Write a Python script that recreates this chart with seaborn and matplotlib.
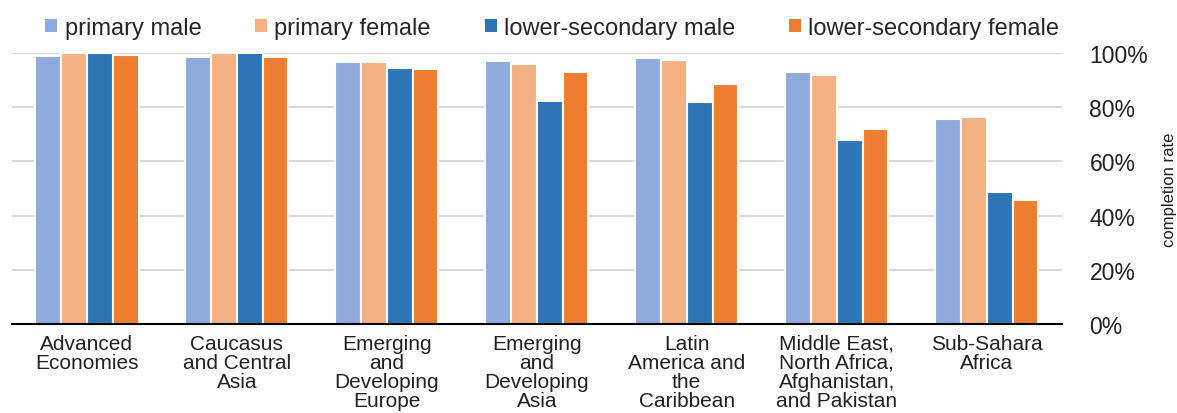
import numpy as np
import pandas as pd
import matplotlib.pyplot as plt
import seaborn as sns
from matplotlib.ticker import PercentFormatter
from matplotlib.patches import Patch

regions = ["Advanced\nEconomies", "Caucasus\nand Central\nAsia", "Emerging\nand\nDeveloping\nEurope",
           "Emerging\nand\nDeveloping\nAsia", "Latin\nAmerica and\nthe\nCaribbean",
           "Middle East,\nNorth Africa,\nAfghanistan,\nand Pakistan", "Sub-Sahara\nAfrica"]
series = ["primary male", "primary female", "lower-secondary male", "lower-secondary female"]
primary_male = [98.9, 98.5, 96.7, 97.0, 98.2, 93.0, 75.6]
primary_female = [100.0, 100.0, 96.7, 96.0, 97.4, 91.9, 76.4]
lower_sec_male = [100.0, 100.0, 94.5, 82.3, 81.9, 67.9, 48.7]
lower_sec_female = [99.3, 98.5, 94.1, 93.0, 88.6, 72.0, 45.8]
colors = ["#8FAADC", "#F4B183", "#2E75B6", "#ED7D31"]

df = pd.DataFrame({"region": regions * 4,
                   "series": np.repeat(series, len(regions)),
                   "rate": primary_male + primary_female + lower_sec_male + lower_sec_female})

sns.set_style("white")
plt.rcParams['font.family'] = ['Liberation Sans', 'DejaVu Sans']

fig = plt.figure(figsize=(11.77, 4.14), dpi=100)
ax = fig.add_axes([0.01, 0.215, 0.892, 0.655])
sns.barplot(data=df, x="region", y="rate", hue="series", palette=colors, width=0.69,
            saturation=1, edgecolor="white", linewidth=1.5, legend=False, ax=ax)

ax.set_ylim(0, 100)
ax.set_yticks([0, 20, 40, 60, 80, 100])
ax.yaxis.set_major_formatter(PercentFormatter(decimals=0))
ax.yaxis.tick_right()
ax.yaxis.set_label_position("right")
ax.tick_params(axis="y", length=0, pad=20, labelsize=16.5, labelcolor="#222222")
ax.tick_params(axis="x", length=0, pad=7, labelsize=15, labelcolor="#222222")
for t in ax.get_xticklabels():
    t.set_linespacing(1.0)
ax.set_xlabel("")
ax.set_ylabel("completion rate", fontsize=12, labelpad=10, color="#222222")
ax.grid(axis="y", color="#D9D9D9", linewidth=1.5)
ax.set_axisbelow(True)
for s in ["top", "left", "right"]:
    ax.spines[s].set_visible(False)
ax.spines["bottom"].set_color("black")
ax.spines["bottom"].set_linewidth(1.5)

handles = [Patch(facecolor=c, edgecolor="none") for c in colors]
fig.legend(handles, series, loc="upper left", bbox_to_anchor=(0.0205, 1.008), ncol=4,
           frameon=False, handlelength=0.51, handleheight=0.51,
           handletextpad=0.3, columnspacing=2.28,
           prop={'family': ['Liberation Sans', 'DejaVu Sans'], 'size': 17})

fig.savefig("out.png", dpi=100)
